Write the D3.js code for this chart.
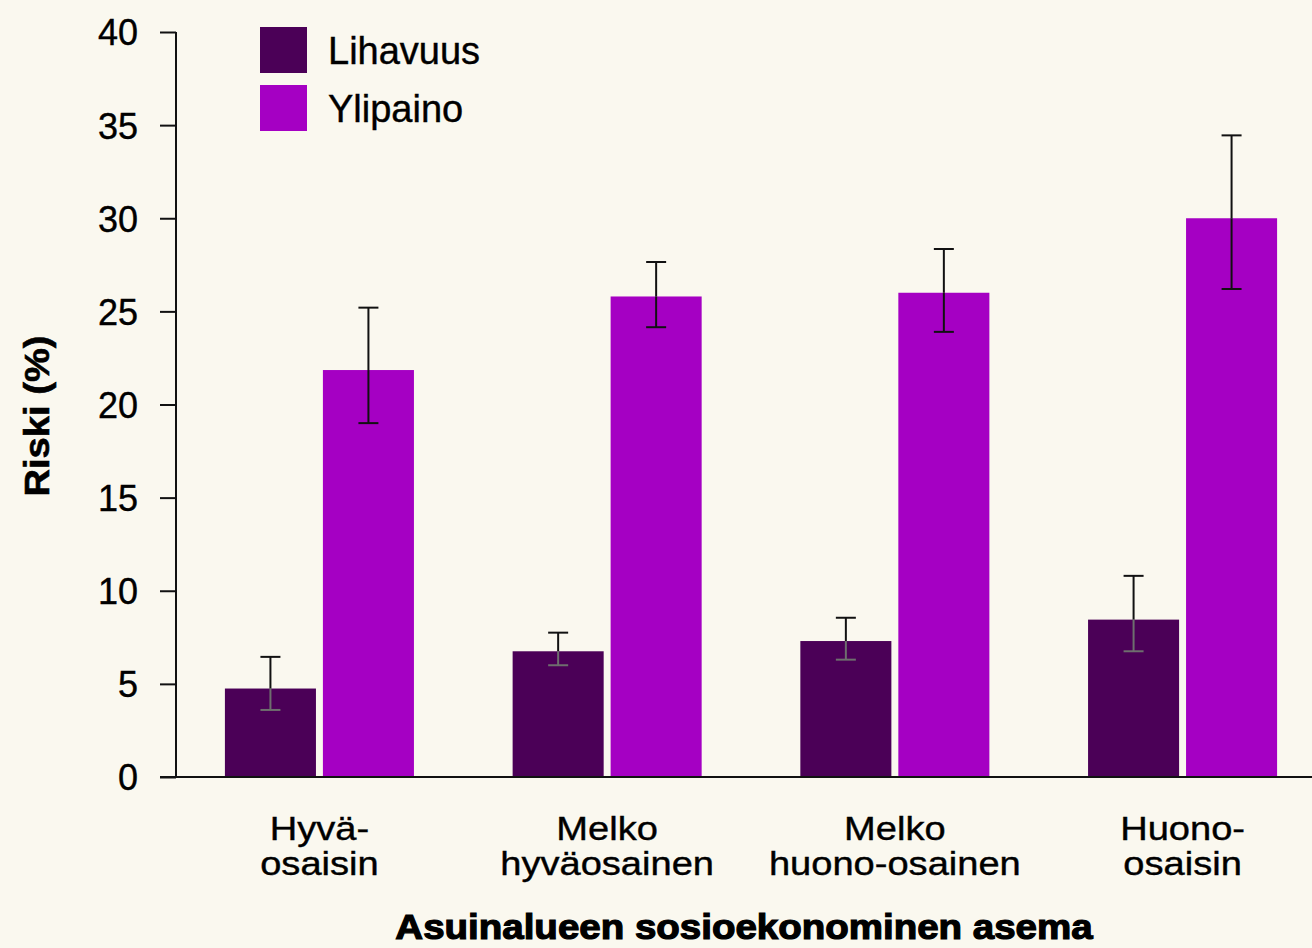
<!DOCTYPE html>
<html>
<head>
<meta charset="utf-8">
<script src="https://cdn.jsdelivr.net/npm/d3@7/dist/d3.min.js"></script>
<style>
  html, body { margin: 0; padding: 0; background: #faf8ef; }
  svg { display: block; }
  text { font-family: "Liberation Sans", Arial, Helvetica, sans-serif; fill: #000; }
</style>
</head>
<body>
<svg id="chart" width="1312" height="948"></svg>
<script>
// ---- data ----
const categories = ["Hyvä-\nosaisin", "Melko\nhyväosainen", "Melko\nhuono-osainen", "Huono-\nosaisin"];
const seriesNames = ["Lihavuus", "Ylipaino"];
const lihavuus = [4.75, 6.75, 7.3, 8.45];
const lihavuusLow = [3.6, 6.0, 6.3, 6.75];
const lihavuusHigh = [6.45, 7.75, 8.55, 10.8];
const ylipaino = [21.85, 25.8, 26.0, 30.0];
const ylipainoLow = [19.0, 24.15, 23.9, 26.2];
const ylipainoHigh = [25.2, 27.65, 28.35, 34.45];
const yTicks = [0, 5, 10, 15, 20, 25, 30, 35, 40];
const yTitle = "Riski (%)";
const xTitle = "Asuinalueen sosioekonominen asema";

const colors = { "Lihavuus": "#4b0057", "Ylipaino": "#a500c3" };
const errInner = { "Lihavuus": "#6e6e6e", "Ylipaino": "#111" };

const svg = d3.select("#chart");
svg.append("rect").attr("width", 1312).attr("height", 948).attr("fill", "#faf8ef");

const y = d3.scaleLinear().domain([0, 40]).range([777, 32]);
const x0 = d3.scaleBand().domain(categories).range([176, 1326]).paddingInner(0.343).paddingOuter(0.17);
const x1 = d3.scaleBand().domain(seriesNames).range([0, x0.bandwidth()]).paddingInner(0.071).paddingOuter(0);

const rows = [];
categories.forEach((c, i) => {
  rows.push({ cat: c, s: "Lihavuus", v: lihavuus[i], lo: lihavuusLow[i], hi: lihavuusHigh[i] });
  rows.push({ cat: c, s: "Ylipaino", v: ylipaino[i], lo: ylipainoLow[i], hi: ylipainoHigh[i] });
});

// bars
svg.append("g").selectAll("rect").data(rows).join("rect")
  .attr("x", d => x0(d.cat) + x1(d.s))
  .attr("y", d => y(d.v))
  .attr("width", x1.bandwidth())
  .attr("height", d => y(0) - y(d.v))
  .attr("fill", d => colors[d.s]);

// error bars
const eg = svg.append("g").attr("stroke-width", 2).attr("fill", "none");
rows.forEach(d => {
  const cx = x0(d.cat) + x1(d.s) + x1.bandwidth() / 2;
  eg.append("line").attr("x1", cx).attr("x2", cx).attr("y1", y(d.hi)).attr("y2", y(d.v)).attr("stroke", "#111");
  eg.append("line").attr("x1", cx - 10).attr("x2", cx + 10).attr("y1", y(d.hi)).attr("y2", y(d.hi)).attr("stroke", "#111");
  eg.append("line").attr("x1", cx).attr("x2", cx).attr("y1", y(d.v)).attr("y2", y(d.lo)).attr("stroke", errInner[d.s]);
  eg.append("line").attr("x1", cx - 10).attr("x2", cx + 10).attr("y1", y(d.lo)).attr("y2", y(d.lo)).attr("stroke", errInner[d.s]);
});

// y axis
const yAxis = d3.axisLeft(y).tickValues(yTicks).tickSize(16).tickPadding(22).tickFormat(d3.format("d"));
const ya = svg.append("g").attr("transform", "translate(176,0)").call(yAxis);
ya.select(".domain").attr("stroke", "#111").attr("stroke-width", 2).attr("d", "M0,32V777");
ya.selectAll(".tick line").attr("stroke", "#111").attr("stroke-width", 2);
ya.selectAll(".tick text").attr("font-size", 36).attr("font-family", "Liberation Sans, Arial, sans-serif")
  .attr("fill", "#000").attr("stroke", "#000").attr("stroke-width", 0.4).attr("dy", "0.36em");

// x axis baseline
svg.append("line").attr("x1", 160).attr("x2", 1312).attr("y1", y(0)).attr("y2", y(0)).attr("stroke", "#111").attr("stroke-width", 2);

// category labels
categories.forEach(c => {
  const cx = x0(c) + x0.bandwidth() / 2;
  const t = svg.append("text").attr("text-anchor", "middle").attr("font-size", 34)
    .attr("stroke", "#000").attr("stroke-width", 0.4)
    .attr("transform", `translate(${cx},0) scale(1.12,1)`);
  c.split("\n").forEach((line, j) => {
    t.append("tspan").attr("x", 0).attr("y", 840 + j * 35).text(line);
  });
});

// y title
svg.append("text").attr("text-anchor", "middle").attr("font-size", 35).attr("font-weight", "bold")
  .attr("stroke", "#000").attr("stroke-width", 0.6)
  .attr("transform", "translate(49,416) rotate(-90) scale(1.09,1)").text(yTitle);

// x title
svg.append("text").attr("text-anchor", "middle").attr("font-size", 35).attr("font-weight", "bold")
  .attr("stroke", "#000").attr("stroke-width", 1.2)
  .attr("transform", "translate(744,939) scale(1.1,1)").text(xTitle);

// legend
const lg = svg.append("g");
seriesNames.forEach((s, i) => {
  const yy = 27 + i * 58;
  lg.append("rect").attr("x", 260).attr("y", yy).attr("width", 47).attr("height", 46).attr("fill", colors[s]);
  lg.append("text").attr("x", 328).attr("y", yy + 37).attr("font-size", 38)
    .attr("stroke", "#000").attr("stroke-width", 0.4).text(s);
});
</script>
</body>
</html>
